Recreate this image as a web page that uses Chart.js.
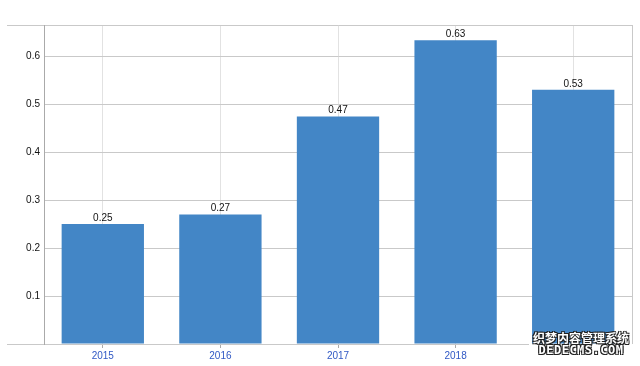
<!DOCTYPE html>
<html>
<head>
<meta charset="utf-8">
<script src="https://cdn.jsdelivr.net/npm/chart.js@4/dist/chart.umd.min.js"></script>
<style>
  html, body { margin: 0; padding: 0; background: #fff; }
  #wrap { position: relative; width: 640px; height: 366px; }
  #wm { position: absolute; left: 529px; top: 331px; width: 104px; font-family: 'Noto Sans CJK SC', sans-serif;
        color: #fff; text-align: center; line-height: 13px;
        text-shadow: -1px -1px 0 #222, 1px -1px 0 #222, -1px 1px 0 #222, 1px 1px 0 #222; }
  #wm .cn { font-size: 12px; font-weight: bold; }
  #wm .en { font-family: 'DejaVu Sans Mono', monospace; font-size: 12px; font-weight: bold;
            letter-spacing: 0.5px; background: #fff; padding-bottom: 6px; }
</style>
</head>
<body>
<div id="wrap">
  <canvas id="c" width="640" height="366"></canvas>
  <div id="wm"><div class="cn">织梦内容管理系统</div><div class="en">DEDECMS.COM</div></div>
</div>
<script>
// data
const YEARS = ['2015', '2016', '2017', '2018', '2019'];
const VALUES = [0.25, 0.27, 0.474, 0.633, 0.53];
const Y_TICKS = [0, 0.1, 0.2, 0.3, 0.4, 0.5, 0.6, 0.665];

const BAR_BLUE = '#4386c6';
const GRID = '#c9c9c9';

// value labels over bars + frame lines
const extras = {
  id: 'extras',
  afterDatasetsDraw(chart) {
    const ctx = chart.ctx;
    const meta = chart.getDatasetMeta(0);
    ctx.save();
    ctx.font = '10px "Liberation Sans", Arial, sans-serif';
    ctx.fillStyle = '#111';
    ctx.textAlign = 'center';
    ctx.textBaseline = 'bottom';
    meta.data.forEach((bar, i) => {
      ctx.fillText((Math.floor(VALUES[i] * 100 + 1e-6) / 100).toFixed(2), bar.x, bar.y - 1);
    });
    const a = chart.chartArea;
    ctx.strokeStyle = GRID;
    ctx.lineWidth = 1;
    ctx.beginPath();
    ctx.moveTo(7, Math.round(a.top) + 0.5); ctx.lineTo(a.left, Math.round(a.top) + 0.5);
    ctx.moveTo(7, Math.round(a.bottom) + 0.5); ctx.lineTo(a.left, Math.round(a.bottom) + 0.5);
    ctx.moveTo(Math.round(a.right) + 0.5, a.top); ctx.lineTo(Math.round(a.right) + 0.5, a.bottom);
    ctx.stroke();
    ctx.restore();
  }
};

new Chart(document.getElementById('c').getContext('2d'), {
  type: 'bar',
  data: {
    labels: YEARS,
    datasets: [{ data: VALUES, backgroundColor: BAR_BLUE, borderWidth: 0,
                 categoryPercentage: 1, barPercentage: 0.7 }]
  },
  plugins: [extras],
  options: {
    responsive: false,
    animation: false,
    layout: { padding: { top: 25, right: 8, left: 0, bottom: 0 } },
    plugins: { legend: { display: false }, tooltip: { enabled: false } },
    scales: {
      x: {
        grid: { offset: false, color: '#e2e2e2', tickColor: '#aaa', tickLength: 4 },
        border: { color: GRID },
        ticks: { color: '#3058c4', padding: 2, font: { family: 'Liberation Sans', size: 10 } },
        afterFit: s => { s.height = 22; }
      },
      y: {
        min: 0, max: 0.665,
        afterBuildTicks: s => { s.ticks = Y_TICKS.map(v => ({ value: v })); },
        grid: { color: GRID, drawTicks: false },
        border: { color: '#aaa' },
        ticks: {
          color: '#111', padding: 4, font: { family: 'Liberation Sans', size: 10 },
          callback: v => (v === 0 || v === 0.665) ? '' : v.toFixed(1)
        },
        afterFit: s => { s.width = 44; }
      }
    }
  }
});
</script>
</body>
</html>
